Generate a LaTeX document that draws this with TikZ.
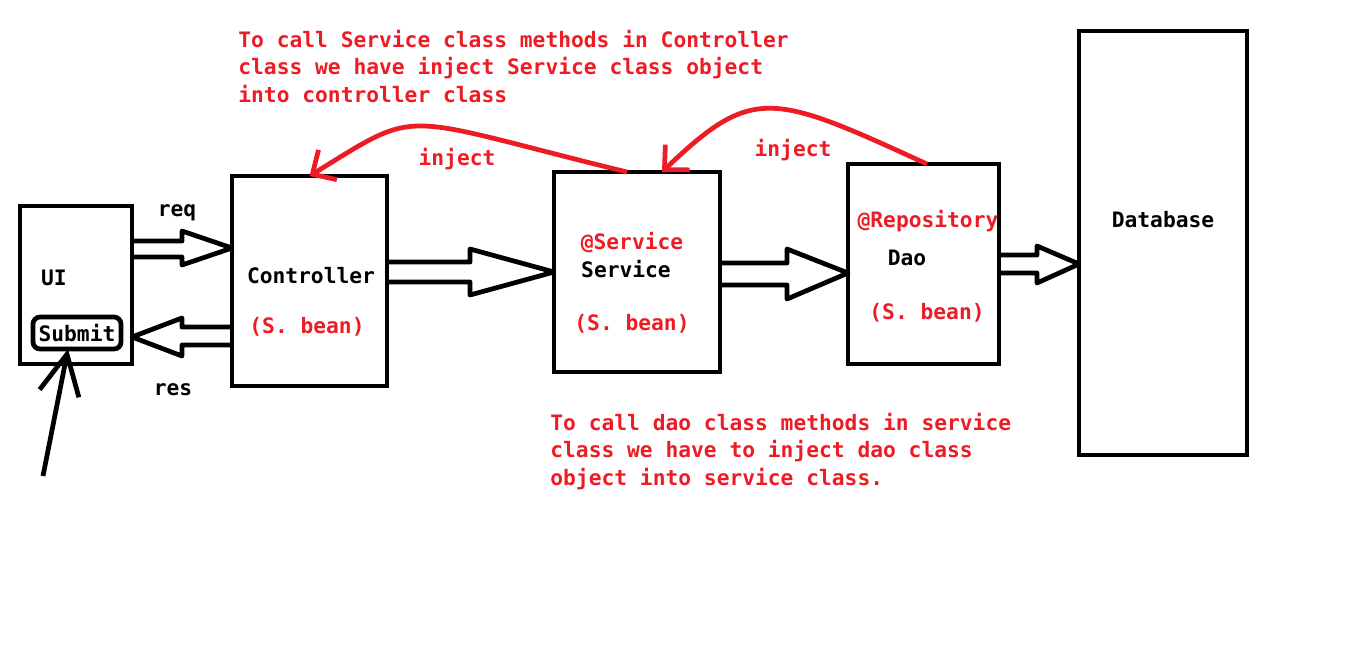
\documentclass[tikz,border=0pt]{standalone}
\usepackage{fontspec}
\setmainfont{DejaVu Sans Mono}
\usetikzlibrary{arrows.meta}
\definecolor{paintred}{RGB}{237,28,36}

\begin{document}
\begin{tikzpicture}[x=0.02cm, y=-0.02cm, line width=2.7pt,
    font=\bfseries\fontsize{12.1}{15.6}\selectfont,
    box/.style={draw, inner sep=0pt, outer sep=0pt},
    lbl/.style={inner sep=0pt, anchor=base},
    redtext/.style={text=paintred},
    blockarrow/.style={draw, line join=round},
    injectline/.style={draw=paintred, -{Straight Barb[length=0.36cm,width=0.7cm]}}]
  \useasboundingbox (0,0) rectangle (1359,654);

  % boxes
  \node (ui) [box, minimum width=2.24cm, minimum height=3.16cm] at (76,285) {};
  \node (submit) [box, rounded corners=4pt, minimum width=1.76cm, minimum height=0.64cm] at (77,333) {Submit};
  \node (ctrl) [box, minimum width=3.10cm, minimum height=4.20cm] at (309.5,281) {};
  \node (service) [box, minimum width=3.32cm, minimum height=4.00cm] at (637,272) {};
  \node (dao) [box, minimum width=3.02cm, minimum height=4.00cm] at (923.5,264) {};
  \node (db) [box, minimum width=3.36cm, minimum height=8.48cm] at (1163,243) {};

  % labels
  \node (uilbl) [lbl] at (54,285) {UI};
  \node (ctrllbl) [lbl] at (311,283) {Controller};
  \node (ctrlbean) [lbl, redtext] at (307,333) {(S. bean)};
  \node (servann) [lbl, redtext] at (632,249) {@Service};
  \node (servlbl) [lbl] at (626,277) {Service};
  \node (servbean) [lbl, redtext] at (632,330) {(S. bean)};
  \node (daoann) [lbl, redtext] at (928,227) {@Repository};
  \node (daolbl) [lbl] at (907,265) {Dao};
  \node (daobean) [lbl, redtext] at (927,319) {(S. bean)};
  \node (dblbl) [lbl] at (1163,227) {Database};
  \node (req) [lbl] at (177,216) {req};
  \node (res) [lbl] at (173,395) {res};
  \node (inject1) [lbl, redtext] at (457,165) {inject};
  \node (inject2) [lbl, redtext] at (793,156) {inject};
  \node (note1) [lbl, redtext, anchor=base west, align=left] at (236,102)
    {To call Service class methods in Controller\\class we have inject Service class object\\into controller class};
  \node (note2) [lbl, redtext, anchor=base west, align=left] at (548,485)
    {To call dao class methods in service\\class we have to inject dao class\\object into service class.};

  % block arrows
  \draw[blockarrow] (ui.east |- 0,241) -- (182,241) -- (182,231) -- (ctrl.west |- 0,248) -- (182,265) -- (182,257) -- (ui.east |- 0,257);
  \draw[blockarrow] (ctrl.west |- 0,327) -- (182,327) -- (182,318) -- (ui.east |- 0,337) -- (182,356) -- (182,345) -- (ctrl.west |- 0,345);
  \draw[blockarrow] (ctrl.east |- 0,262) -- (470,262) -- (470,249) -- (service.west |- 0,272) -- (470,295) -- (470,282) -- (ctrl.east |- 0,282);
  \draw[blockarrow] (service.east |- 0,263) -- (787,263) -- (787,249) -- (dao.west |- 0,273) -- (787,299) -- (787,285) -- (service.east |- 0,285);
  \draw[blockarrow] (dao.east |- 0,255) -- (1037,255) -- (1037,246) -- (db.west |- 0,264) -- (1037,283) -- (1037,273) -- (dao.east |- 0,273);

  % inject arrows
  \draw[injectline] ([xshift=-0.2cm]service.north) .. controls (394,115) and (423,106) .. (ctrl.north);
  \draw[injectline] ([xshift=0.07cm]dao.north) .. controls (772,93) and (753,85) .. ([xshift=0.5cm]service.north);

  % click
  \coordinate (click) at (43,476);
  \draw[-{Straight Barb[length=0.8cm,width=0.8cm]}] (click) -- ([xshift=-0.18cm]submit.south);
\end{tikzpicture}
\end{document}
